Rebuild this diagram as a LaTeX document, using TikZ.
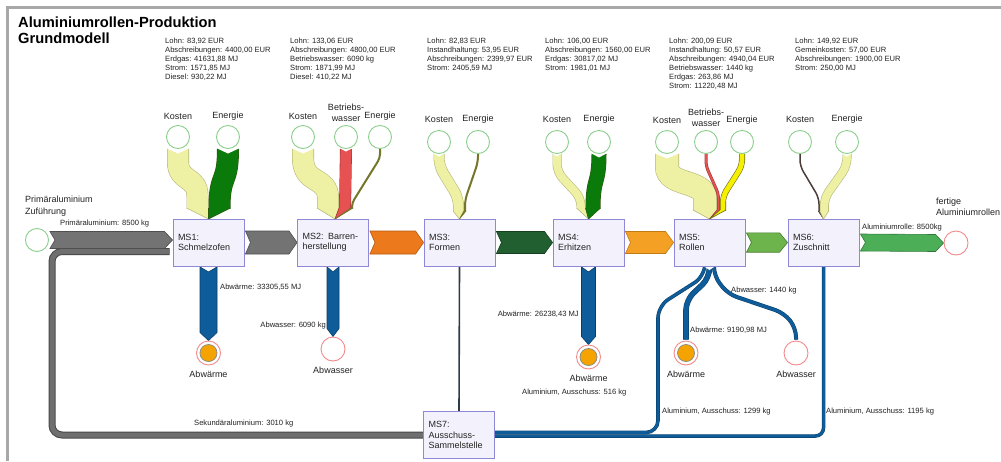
\documentclass[tikz,border=0pt]{standalone}
\usepackage{fontspec}
\setmainfont{Liberation Sans}
\usetikzlibrary{calc}

\definecolor{txt}{HTML}{222222}
\definecolor{frame}{HTML}{A8A8A8}
\definecolor{boxF}{HTML}{F3F1FB}
\definecolor{boxE}{HTML}{8F88D6}
\definecolor{srcE}{HTML}{8CCF8C}
\definecolor{snkE}{HTML}{F28A8A}
\definecolor{heatF}{HTML}{F5A300}
\definecolor{heatE}{HTML}{8F8F80}
\definecolor{kost}{HTML}{EEF1A4}
\definecolor{kostE}{HTML}{B9B97A}
\definecolor{grn}{HTML}{0A7A0A}
\definecolor{grnE}{HTML}{2B5A10}
\definecolor{wred}{HTML}{E65252}
\definecolor{wredE}{HTML}{A33A3A}
\definecolor{yel}{HTML}{F7EF00}
\definecolor{yelE}{HTML}{6B6B1A}
\definecolor{olv}{HTML}{76762A}
\definecolor{dkline}{HTML}{4B3B3B}
\definecolor{gry}{HTML}{737373}
\definecolor{gryE}{HTML}{4F4F4F}
\definecolor{orng}{HTML}{EC7A1C}
\definecolor{orngE}{HTML}{B35A12}
\definecolor{dgrn}{HTML}{215F30}
\definecolor{dgrnE}{HTML}{163F20}
\definecolor{ambr}{HTML}{F4A025}
\definecolor{ambrE}{HTML}{C07B15}
\definecolor{lgrn}{HTML}{6CB44B}
\definecolor{lgrnE}{HTML}{467A30}
\definecolor{fgrn}{HTML}{4CAE57}
\definecolor{fgrnE}{HTML}{2F7A3A}
\definecolor{blu}{HTML}{0E5D9A}
\definecolor{bluE}{HTML}{0A3D66}
\definecolor{scrap}{HTML}{2E3B48}
\definecolor{sek}{HTML}{6F6F6F}
\definecolor{sekE}{HTML}{474747}

\pgfdeclarelayer{paper}
\pgfdeclarelayer{flows}
\pgfsetlayers{paper,flows,main}

% horizontal arrow band: from anchor, to anchor (tip), half width, fill, edge
\newcommand\hflow[5]{%
  \filldraw[fill=#4,draw=#5,line width=0.6pt]
    ($(#1)+(1,-#3)$) -- ($(#2)+(-8,-#3)$) -- (#2) -- ($(#2)+(-8,#3)$)
    -- ($(#1)+(1,#3)$) -- ($(#1)+(6,0)$) -- cycle;}
% downward arrow band: start anchor, tip anchor, half width, fill, edge
\newcommand\vflow[5]{%
  \filldraw[fill=#4,draw=#5,line width=0.6pt]
    ($(#1)+(-#3,0.5)$) -- ($(#2)+(-#3,-8)$) -- (#2) -- ($(#2)+(#3,-8)$)
    -- ($(#1)+(#3,0.5)$) -- ($(#1)+(0,5.5)$) -- cycle;}
% curved input band drawn as an outlined thick stroke
\newcommand\band[5]{%
  \draw[#2,line width=#3pt,#4] #5;
  \draw[#1,line width={#3pt-1.2pt},#4] #5;}
% one colour share of an arrow head: fill, edge, left x, right x, top y, tip x, tip y
\newcommand\headpart[7]{%
  \fill[#1] (#3,#5) -- (#4,#5) -- (#6,#7) -- cycle;
  \draw[#2,line width=0.6pt] (#3,#5) -- (#6,#7) -- (#4,#5);}
% V-shaped cut at the tail of a band: x, half width, top y, depth
\newcommand\notch[4]{%
  \fill[white] (#1-#2-1,#3-0.6) -- (#1+#2+1,#3-0.6) -- (#1,#3+#4) -- cycle;}
% outlined blue stream
\newcommand\bluepath[3]{%
  \draw[bluE,line width={#1pt+1pt},#2] #3;
  \draw[blu,line width=#1pt,#2] #3;}

\begin{document}
\begin{tikzpicture}[x=1pt,y=-1pt,
  box/.style={draw=boxE,fill=boxF,line width=0.9pt,minimum width=71pt,
    minimum height=47pt,text width=61pt,inner sep=5pt,align=left,
    font=\fontsize{9}{10.5}\selectfont,text=txt},
  src/.style={circle,draw=srcE,fill=white,line width=0.9pt,minimum size=23pt,inner sep=0pt},
  snk/.style={circle,draw=snkE,fill=white,line width=0.9pt,minimum size=24pt,inner sep=0pt},
  heat/.style={snk,path picture={\filldraw[fill=heatF,draw=heatE,line width=0.8pt]
    (path picture bounding box.center) circle (8.5pt);}},
  cat/.style={font=\fontsize{9}{11}\selectfont,text=txt,inner sep=0pt,align=center},
  flab/.style={font=\fontsize{7.6}{9}\selectfont,text=txt,inner sep=0pt,anchor=west},
  info/.style={font=\fontsize{7.6}{9}\selectfont,text=txt,inner sep=0pt,anchor=north west,align=left},
  ttl/.style={font=\fontsize{14.7}{16}\selectfont\bfseries,text=black,inner sep=0pt,anchor=base west}
]
\useasboundingbox (0,0) rectangle (1001,461);
\begin{pgfonlayer}{paper}
  \fill[white] (0,0) rectangle (1001,461);
\end{pgfonlayer}

% page frame
\draw[frame,line width=2.5pt] (7.5,461) -- (7.5,7.5) -- (1001,7.5);

% title
\node[ttl] (t1) at (18,27) {Aluminiumrollen-Produktion};
\node[ttl] (t2) at (18,43) {Grundmodell};

% cost and consumption lists
\node[info] (i1) at (165,37.5) {Lohn: 83,92 EUR\\Abschreibungen: 4400,00 EUR\\Erdgas: 41631,88 MJ\\Strom: 1571,85 MJ\\Diesel: 930,22 MJ};
\node[info] (i2) at (290,37.5) {Lohn: 133,06 EUR\\Abschreibungen: 4800,00 EUR\\Betriebswasser: 6090 kg\\Strom: 1871,99 MJ\\Diesel: 410,22 MJ};
\node[info] (i3) at (427,37.5) {Lohn: 82,83 EUR\\Instandhaltung: 53,95 EUR\\Abschreibungen: 2399,97 EUR\\Strom: 2405,59 MJ};
\node[info] (i4) at (545,37.5) {Lohn: 106,00 EUR\\Abschreibungen: 1560,00 EUR\\Erdgas: 30817,02 MJ\\Strom: 1981,01 MJ};
\node[info] (i5) at (669,37.5) {Lohn: 200,09 EUR\\Instandhaltung: 50,57 EUR\\Abschreibungen: 4940,04 EUR\\Betriebswasser: 1440 kg\\Erdgas: 263,86 MJ\\Strom: 11220,48 MJ};
\node[info] (i6) at (795,37.5) {Lohn: 149,92 EUR\\Gemeinkosten: 57,00 EUR\\Abschreibungen: 1900,00 EUR\\Strom: 250,00 MJ};

% process stages
\node[box] (ms1) at (208.5,242.5) {MS1:\\Schmelzofen};
\node[box] (ms2) at (333,242.5) {MS2: Barren-\\herstellung};
\node[box] (ms3) at (459.5,242.5) {MS3:\\Formen};
\node[box] (ms4) at (588.5,242.5) {MS4:\\Erhitzen};
\node[box] (ms5) at (709.5,242.5) {MS5:\\Rollen};
\node[box] (ms6) at (823.5,242.5) {MS6:\\Zuschnitt};
\node[box] (ms7) at (459,435) {MS7:\\Ausschuss-\\Sammelstelle};

% sources
\node[src] (prim) at (37,240) {};
\node[src] (k1) at (178,137) {};
\node[src] (e1) at (228,137) {};
\node[src] (k2) at (303,137) {};
\node[src] (w2) at (346,137) {};
\node[src] (e2) at (380,137) {};
\node[src] (k3) at (439,142) {};
\node[src] (e3) at (478,142) {};
\node[src] (k4) at (557,142) {};
\node[src] (e4) at (599,142) {};
\node[src] (k5) at (667,142) {};
\node[src] (w5) at (706,142) {};
\node[src] (e5) at (742,142) {};
\node[src] (k6) at (800,142) {};
\node[src] (e6) at (847,142) {};

% sinks
\node[snk] (out) at (956,243) {};
\node[heat] (h1) at (208.5,353) {};
\node[snk] (a2) at (333,349) {};
\node[heat] (h4) at (588.5,357) {};
\node[heat] (h5) at (686,353) {};
\node[snk] (a5) at (796,353) {};

% source and sink captions
\node[cat,anchor=west,align=left,font=\fontsize{9}{12}\selectfont] (lprim) at (25,206) {Primäraluminium\\Zuführung};
\node[cat,anchor=west,align=left] (lout) at (936,206.5) {fertige\\Aluminiumrollen};
\node[cat] (lk1) at (178,116) {Kosten};
\node[cat] (le1) at (228,116) {Energie};
\node[cat] (lk2) at (303,116) {Kosten};
\node[cat] (lw2) at (346,112.5) {Betriebs-\\wasser};
\node[cat] (le2) at (380,116) {Energie};
\node[cat] (lk3) at (439,119) {Kosten};
\node[cat] (le3) at (478,119) {Energie};
\node[cat] (lk4) at (557,119) {Kosten};
\node[cat] (le4) at (599,119) {Energie};
\node[cat] (lk5) at (667,120) {Kosten};
\node[cat] (lw5) at (706,117.5) {Betriebs-\\wasser};
\node[cat] (le5) at (742,120) {Energie};
\node[cat] (lk6) at (800,119) {Kosten};
\node[cat] (le6) at (847,119) {Energie};
\node[cat] (lh1) at (208.5,374) {Abwärme};
\node[cat] (la2) at (333,370) {Abwasser};
\node[cat] (lh4) at (588.5,378) {Abwärme};
\node[cat] (lh5) at (686,374) {Abwärme};
\node[cat] (la5) at (796,374) {Abwasser};

% flow quantities
\node[flab] (q1) at (60,224) {Primäraluminium: 8500 kg};
\node[flab] (q2) at (220,287) {Abwärme: 33305,55 MJ};
\node[flab,anchor=east] (q3) at (326,326) {Abwasser: 6090 kg};
\node[flab,anchor=east] (q4) at (579,314) {Abwärme: 26238,43 MJ};
\node[flab] (q5) at (731,291) {Abwasser: 1440 kg};
\node[flab] (q6) at (690,330) {Abwärme: 9190,98 MJ};
\node[flab] (q7) at (522,393) {Aluminium, Ausschuss: 516 kg};
\node[flab] (q8) at (662,412) {Aluminium, Ausschuss: 1299 kg};
\node[flab] (q9) at (826,412) {Aluminium, Ausschuss: 1195 kg};
\node[flab] (q10) at (194,424) {Sekundäraluminium: 3010 kg};
\node[flab] (q11) at (862,228) {Aluminiumrolle: 8500kg};

\begin{pgfonlayer}{flows}
  % secondary aluminium returned from the scrap collector
  \draw[sekE,line width=7pt,rounded corners=10pt] (ms7.west) -- (52,435) -- (52,251.5) -- ($(ms1.west)+(-3,9)$);
  \draw[sek,line width=5pt,rounded corners=10pt] (ms7.west) -- (52,435) -- (52,251.5) -- ($(ms1.west)+(-3,9)$);

  % main material line
  \coordinate (p1in) at ($(ms1.west)+(0,-2.5)$);
  \hflow{prim.east}{p1in}{8.5}{gry}{gryE}
  \hflow{ms1.east}{ms2.west}{11.5}{gry}{gryE}
  \hflow{ms2.east}{ms3.west}{11.5}{orng}{orngE}
  \hflow{ms3.east}{ms4.west}{11}{dgrn}{dgrnE}
  \hflow{ms4.east}{ms5.west}{11}{ambr}{ambrE}
  \hflow{ms5.east}{ms6.west}{9.7}{lgrn}{lgrnE}
  \hflow{ms6.east}{out.west}{8.5}{fgrn}{fgrnE}

  % waste heat and waste water
  \vflow{ms1.south}{h1.north}{8.5}{blu}{bluE}
  \vflow{ms2.south}{a2.north}{6}{blu}{bluE}
  \vflow{ms4.south}{h4.north}{7}{blu}{bluE}

  % scrap streams to MS7
  \draw[scrap,line width=1.6pt] (ms3.south) -- (ms7.north);
  \bluepath{2.5}{rounded corners=8pt}{(ms6.south) -- (823.5,436) -- ($(ms7.east)+(0,1)$)}
  \bluepath{2.6}{rounded corners=12pt}{($(ms5.south)+(-4.5,0)$) -- (705,276) -- (658,306) -- (658,432.5) -- ($(ms7.east)+(0,-2.5)$)}
  \bluepath{4.6}{rounded corners=10pt}{(ms5.south) -- (709.5,278) -- (686,300) -- ($(h5.north)+(0,-1)$)}
  \bluepath{3}{rounded corners=9pt}{($(ms5.south)+(4.5,0)$) -- (714,276) -- (728,294) -- (784,313) -- (796,328) -- ($(a5.north)+(0,-1)$)}
  \notch{709.5}{6}{266}{4}

  % MS1 inputs
  \band{kost}{kostE}{22}{}{(178,148.5) -- (178,162) .. controls (178,182) and (197.5,176) .. (197.5,196) -- (197.5,208.5)}
  \band{grn}{grnE}{22}{}{(228,148.5) .. controls (228,186) and (219.5,172) .. (219.5,208.5)}
  \headpart{kost}{kostE}{186.5}{208.5}{208}{208.5}{219}
  \headpart{grn}{grnE}{208.5}{230.5}{208}{208.5}{219}
  \notch{178}{11}{148.5}{5}
  \notch{228}{11}{148.5}{5}

  % MS2 inputs
  \band{kost}{kostE}{22}{}{(303,148.5) -- (303,158) .. controls (303,185) and (328,176) .. (328,198) -- (328,208.5)}
  \band{wred}{wredE}{12}{}{(346,148.5) -- (345,208.5)}
  \draw[olv,line width=2pt,rounded corners=4pt] (380,148.5) -- (380,158) -- (352,203) -- (352,208.5);
  \headpart{kost}{kostE}{317}{339}{208}{335}{219}
  \headpart{wred}{wredE}{339}{351}{208}{335}{219}
  \headpart{olv}{olv}{351}{353}{208}{335}{219}
  \notch{303}{11}{148.5}{5}
  \notch{346}{6}{148.5}{3}

  % MS3 inputs
  \band{kost}{kostE}{11}{rounded corners=8pt}{(439,153.5) -- (439,166) -- (458.5,198) -- (458.5,211.5)}
  \draw[olv,line width=2pt,rounded corners=6pt] (478,153.5) -- (478,162) -- (465,200) -- (465,211.5);
  \headpart{kost}{kostE}{453}{464}{211}{459.5}{219}
  \headpart{olv}{olv}{464}{466}{211}{459.5}{219}
  \notch{439}{5.5}{153.5}{3}

  % MS4 inputs
  \band{kost}{kostE}{9}{rounded corners=8pt}{(557,153.5) -- (557,172) -- (581,198) -- (581,208.5)}
  \band{grn}{grnE}{15}{}{(599,153.5) .. controls (599,186) and (593,176) .. (593,208.5)}
  \headpart{kost}{kostE}{576.5}{585.5}{208}{588.5}{219}
  \headpart{grn}{grnE}{585.5}{600.5}{208}{588.5}{219}
  \notch{557}{4.5}{153.5}{3}
  \notch{599}{7.5}{153.5}{4}

  % MS5 inputs
  \band{kost}{kostE}{24}{}{(667,153.5) -- (667,167) .. controls (667,186) and (705,180) .. (705,198) -- (705,210.5)}
  \band{wred}{wredE}{3}{rounded corners=5pt}{(706,153.5) -- (706,166) -- (718.5,194) -- (718.5,210.5)}
  \band{yel}{yelE}{6}{rounded corners=6pt}{(742,153.5) -- (742,166) -- (723,196) -- (723,210.5)}
  \headpart{kost}{kostE}{693}{717}{210}{709.5}{219}
  \headpart{wred}{wredE}{717}{720}{210}{709.5}{219}
  \headpart{yel}{yelE}{720}{726}{210}{709.5}{219}
  \notch{667}{12}{153.5}{5}

  % MS6 inputs
  \draw[dkline,line width=1.5pt,rounded corners=6pt] (800,153.5) -- (800,166) -- (819,198) -- (819,211.5);
  \band{kost}{kostE}{9}{rounded corners=8pt}{(847,153.5) -- (847,166) -- (824.25,198) -- (824.25,211.5)}
  \headpart{dkline}{dkline}{818.25}{819.75}{211}{823.5}{219}
  \headpart{kost}{kostE}{819.75}{828.75}{211}{823.5}{219}
  \notch{847}{4.5}{153.5}{3}
\end{pgfonlayer}
\end{tikzpicture}
\end{document}
